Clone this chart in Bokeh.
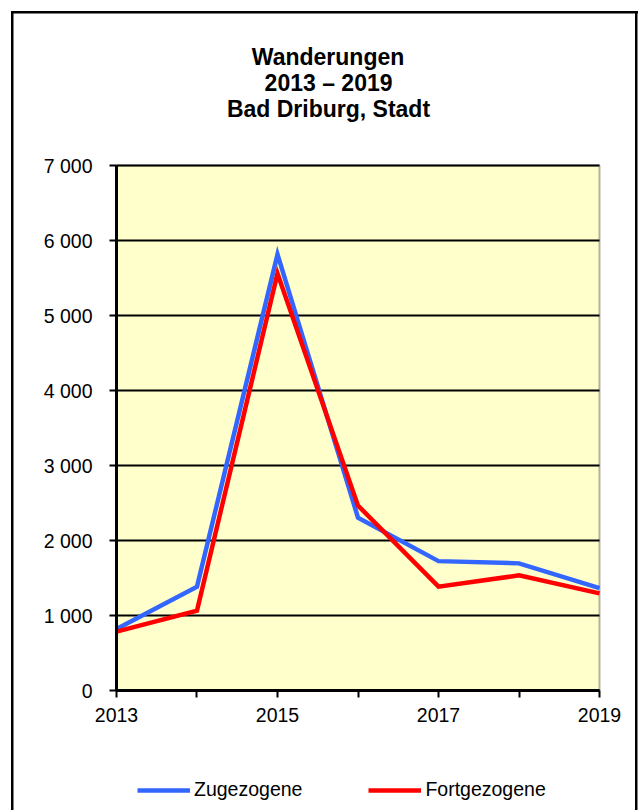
from bokeh.plotting import figure
from bokeh.models import Range1d, FixedTicker, Title, Legend, LegendItem, BoxAnnotation
from bokeh.embed import file_html
from bokeh.resources import INLINE

# ---- data ----
years = [2013, 2014, 2015, 2016, 2017, 2018, 2019]
zugezogene = [820, 1385, 5815, 2305, 1725, 1695, 1365]
fortgezogene = [785, 1065, 5560, 2465, 1385, 1535, 1295]
y_ticks = [0, 1000, 2000, 3000, 4000, 5000, 6000, 7000]
y_tick_labels = ["0", "1 000", "2 000", "3 000", "4 000", "5 000", "6 000", "7 000"]
x_tick_labels = ["2013", "", "2015", "", "2017", "", "2019"]
title_lines = ["Wanderungen", "2013 \u2013 2019", "Bad Driburg, Stadt"]
series_names = ["Zugezogene", "Fortgezogene"]

FONT = "Liberation Sans"
FS = "19.5px"

# the frame is larger than the plot area so axes labels and legend live inside it
p = figure(width=640, height=810, output_backend="svg", toolbar_location=None,
           x_range=Range1d(2011.99379, 2019.32298), y_range=Range1d(-1533.33, 7200),
           min_border_left=35, min_border_right=15, min_border_top=150,
           min_border_bottom=5,
           background_fill_color="white", border_fill_alpha=0,
           outline_line_color=None)

# outer frame of the chart, drawn behind the (transparent) canvas border area
p.styles = {
    "background-color": "white",
    "background-image": "linear-gradient(#000,#000),linear-gradient(#000,#000),linear-gradient(#000,#000)",
    "background-size": "2.5px 820px, 2.5px 820px, 627px 2.5px",
    "background-position": "10.5px 11px, 635px 11px, 10.5px 11px",
    "background-repeat": "no-repeat",
}

# plot area (yellow, framed)
p.add_layout(BoxAnnotation(left=years[0], right=years[-1], bottom=y_ticks[0], top=y_ticks[-1],
                           fill_color="#FFFFCC", fill_alpha=1, line_color="black",
                           line_width=2, level="image"))

# horizontal grid lines limited to the plot area
p.segment(x0=years[0], x1=years[-1], y0=y_ticks, y1=y_ticks,
          line_color="black", line_width=2, level="underlay")

# axes
p.xaxis.fixed_location = 0
p.xaxis.bounds = (years[0], years[-1])
p.xaxis.ticker = FixedTicker(ticks=years)
p.xaxis.major_label_overrides = {y: l for y, l in zip(years, x_tick_labels)}
p.yaxis.fixed_location = years[0]
p.yaxis.bounds = (y_ticks[0], y_ticks[-1])
p.yaxis.ticker = FixedTicker(ticks=y_ticks)
p.yaxis.major_label_overrides = {v: l for v, l in zip(y_ticks, y_tick_labels)}
for ax in (p.xaxis, p.yaxis):
    ax.axis_line_color = "black"
    ax.axis_line_width = 3
    ax.major_tick_line_color = "black"
    ax.major_tick_line_width = 2
    ax.major_tick_in = 0
    ax.major_tick_out = 7
    ax.minor_tick_line_color = None
    ax.major_label_text_font = FONT
    ax.major_label_text_font_size = FS
    ax.major_label_text_color = "black"
p.yaxis.major_label_standoff = 17
p.xaxis.major_label_standoff = 10

p.xgrid.visible = False
p.ygrid.visible = False

# lines
r1 = p.line(years, zugezogene, line_color="#3366FF", line_width=4.5, line_join="miter")
r2 = p.line(years, fortgezogene, line_color="#FF0000", line_width=4.5, line_join="miter")

# legend at the bottom of the chart
lg = Legend(items=[LegendItem(label=series_names[0], renderers=[r1]),
                   LegendItem(label=series_names[1], renderers=[r2])],
            location=(102, 4), orientation="horizontal", spacing=66,
            glyph_width=53, glyph_height=22, label_height=22, label_standoff=4,
            padding=0, margin=0, border_line_color=None, background_fill_alpha=0,
            label_text_font=FONT, label_text_font_size=FS, label_text_color="black")
p.add_layout(lg)

# titles (closest to the plot first); spacer keeps them away from the frame
p.add_layout(Title(text=" ", text_font_size="23px", standoff=2), "above")
for txt, off in zip(reversed(title_lines), (191.4, 229.1, 216.3)):
    p.add_layout(Title(text=txt, align="left", offset=off, standoff=-2,
                       text_font=FONT, text_font_style="bold", text_font_size="23px",
                       text_color="black"), "above")

open("out.html", "w").write(file_html(p, INLINE))
